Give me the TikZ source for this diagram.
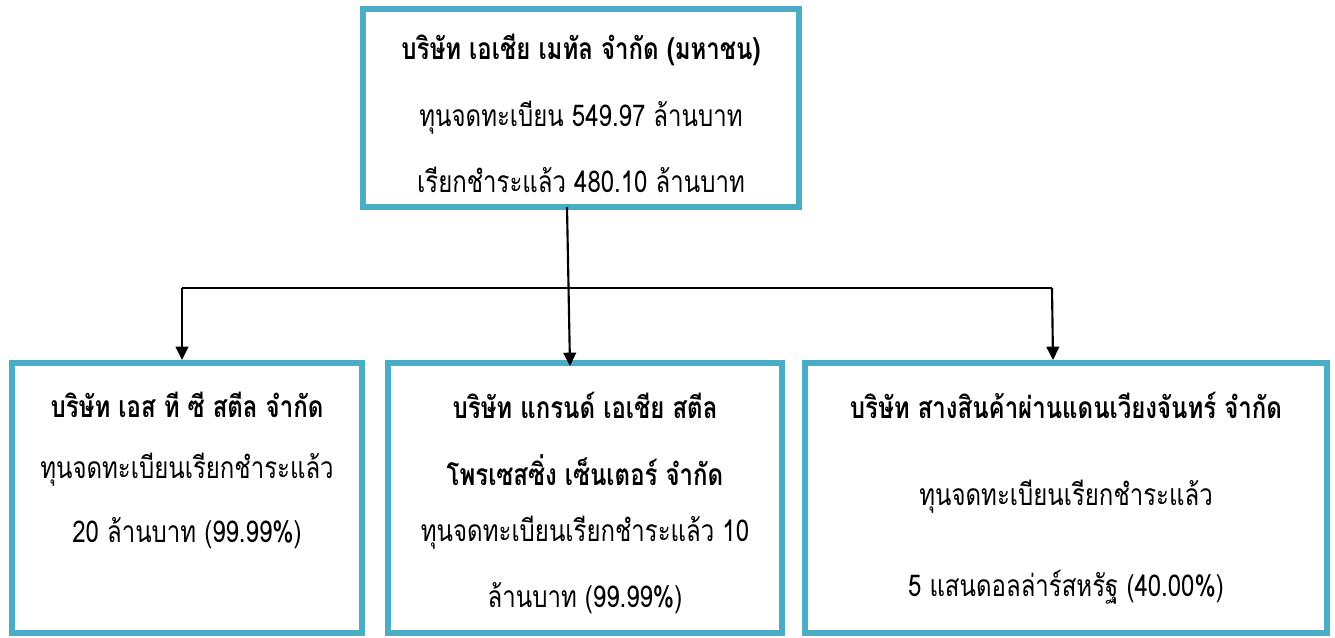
\documentclass[tikz,border=0pt]{standalone}
\usepackage{fontspec}
\usepackage{graphicx}
\newfontfamily\thai[Script=Thai]{Loma}
\usetikzlibrary{arrows.meta,calc}
\newdimen\px \px=0.75pt
\newcommand{\tall}[1]{\scalebox{1}[1.25]{#1}}
\definecolor{boxcol}{HTML}{4BACC6}
\begin{document}
\begin{tikzpicture}[x=0.75pt,y=-0.75pt,
  cbox/.style={draw=boxcol,line width=6\px,inner sep=0pt,outer sep=0pt,rectangle,fill=white},
  ttl/.style={font=\thai\bfseries\fontsize{18}{22}\selectfont,inner sep=0pt,anchor=center},
  txt/.style={font=\thai\fontsize{18}{22}\selectfont,inner sep=0pt,anchor=center},
  conn/.style={line width=1.6pt,black},
  arr/.style={conn,-{Triangle[length=10pt,width=9.5pt]}}]
\useasboundingbox (0,0) rectangle (1335,637);
\node[cbox,minimum width=436\px,minimum height=198\px] (top) at (581,108) {};
\node[cbox,minimum width=350\px,minimum height=270\px] (b1) at (187,498) {};
\node[cbox,minimum width=394\px,minimum height=270\px] (b2) at (585,498) {};
\node[cbox,minimum width=522\px,minimum height=270\px] (b3) at (1066,498) {};
% texts
\node[ttl] (t0) at (581,50) {\tall{บริษัท เอเชีย เมทัล จำกัด (มหาชน)}};
\node[txt] (t1) at (581,118) {\tall{ทุนจดทะเบียน 549.97 ล้านบาท}};
\node[txt] (t2) at (581,180) {\tall{เรียกชำระแล้ว 480.10 ล้านบาท}};
\node[ttl] (a0) at (187,405) {\tall{บริษัท เอส ที ซี สตีล จำกัด}};
\node[txt] (a1) at (187,470) {\tall{ทุนจดทะเบียนเรียกชำระแล้ว}};
\node[txt] (a2) at (187,533) {\tall{20 ล้านบาท (99.99\%)}};
\node[ttl] (c0) at (585,405) {\tall{บริษัท แกรนด์ เอเชีย สตีล}};
\node[ttl] (c1) at (585,470) {\tall{โพรเซสซิ่ง เซ็นเตอร์ จำกัด}};
\node[txt] (c2) at (585,533) {\tall{ทุนจดทะเบียนเรียกชำระแล้ว 10}};
\node[txt] (c3) at (585,598) {\tall{ล้านบาท (99.99\%)}};
\node[ttl] (d0) at (1066,405) {\tall{บริษัท สางสินค้าผ่านแดนเวียงจันทร์ จำกัด}};
\node[txt] (d1) at (1066,497) {\tall{ทุนจดทะเบียนเรียกชำระแล้ว}};
\node[txt] (d2) at (1066,587) {\tall{5 แสนดอลล่าร์สหรัฐ (40.00\%)}};
% connectors
\coordinate (s0) at ([xshift=-14\px]top.south);
\coordinate (jl) at (182,288);
\coordinate (jr) at (1052,288);
\draw[arr] (s0) -- ([xshift=-15\px,yshift=-3\px]b2.north);
\draw[conn] (jl) -- (jr);
\draw[arr] (jl) -- (182,360);
\draw[arr] (jr) -- (1053,360);
\end{tikzpicture}
\end{document}
